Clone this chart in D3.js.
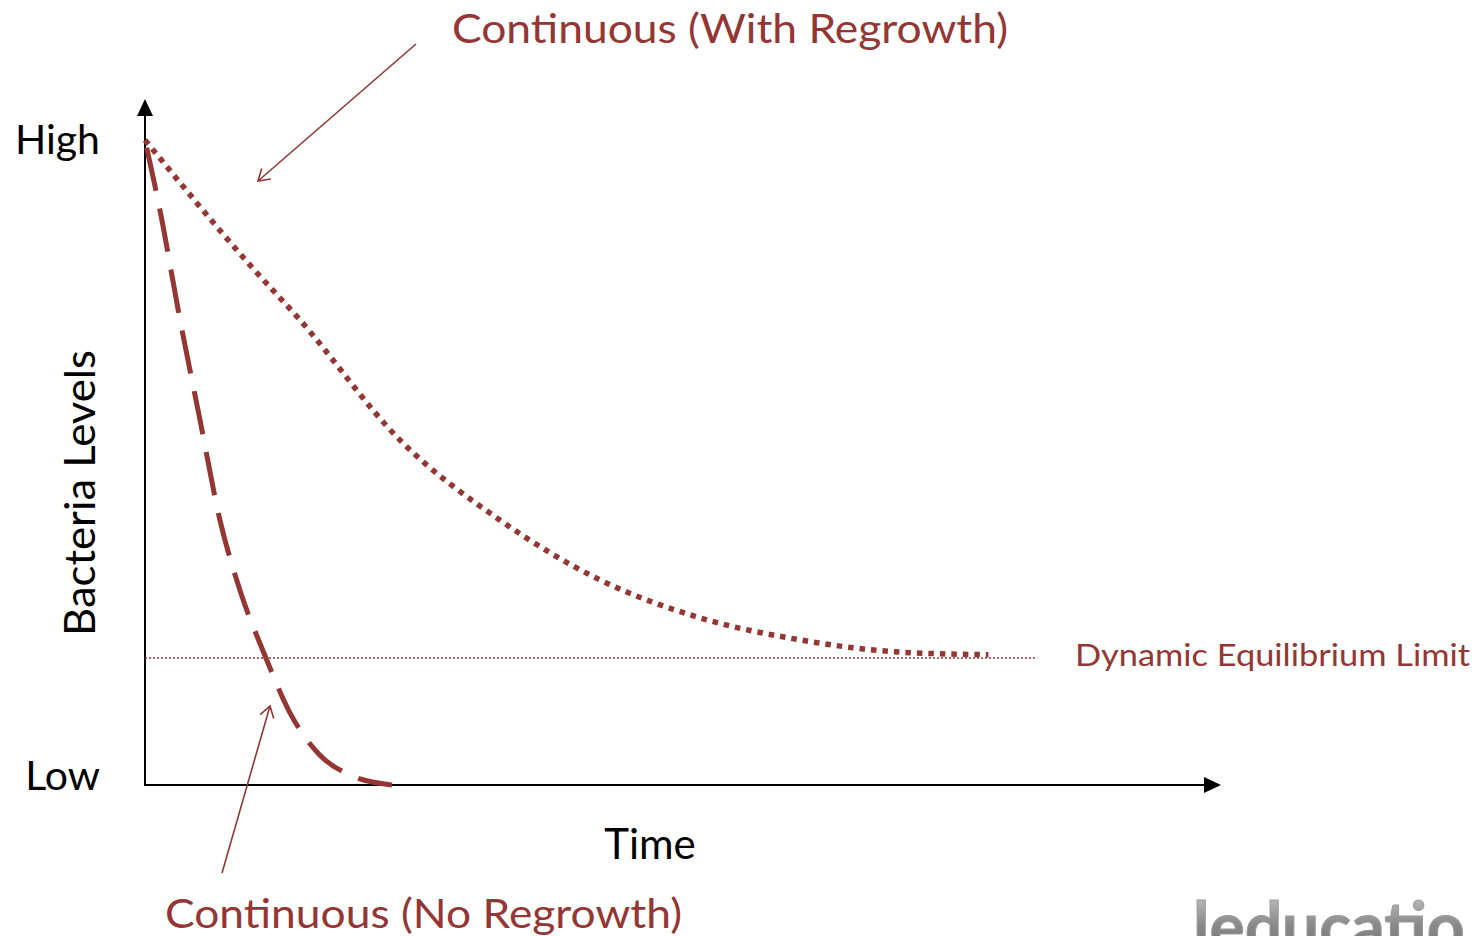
<!DOCTYPE html>
<html><head><meta charset="utf-8">
<script src="https://cdn.jsdelivr.net/npm/d3@7"></script>
<style>body{margin:0;background:#fff}svg{display:block}</style>
</head><body>
<svg id="c" width="1484" height="936"></svg>
<script>
// Data (time 0..100, bacteria level 0..100)
const withRegrowthTime  = [0, 10.1, 14.9, 24.5, 34.1, 43.75, 53.4, 63.0, 72.6, 81.1];
const withRegrowthLevel = [100, 80.6, 72.1, 53.5, 41.1, 31.8, 25.9, 22.5, 20.6, 20.2];
const noRegrowthTime    = [0, 1.44, 3.37, 5.29, 7.2, 9.13, 11.5, 13.9, 16.8, 19.7, 23.75];
const noRegrowthLevel   = [100, 89.1, 72.1, 56.6, 41.1, 30.2, 20.2, 11.3, 4.65, 1.55, 0];
const equilibriumLevel  = [19.7];
const equilibriumSpan   = [0, 85.8];
const yTickLabels = ["Low", "High"];
const yTickValues = [0, 100];
const labels = {
  x: "Time", y: "Bacteria Levels",
  withR: "Continuous (With Regrowth)", noR: "Continuous (No Regrowth)",
  eq: "Dynamic Equilibrium Limit", logo: "leducatio"
};

const RED = "#943634";
const svg = d3.select("#c");
const x = d3.scaleLinear().domain([0, 100]).range([145, 1185]);
const y = d3.scaleLinear().domain([0, 100]).range([785, 140]);
const font = "Lato, 'Open Sans', sans-serif";

const defs = svg.append("defs");
defs.append("marker").attr("id","open").attr("viewBox","-12 -8 14 16").attr("refX",0).attr("refY",0)
  .attr("markerWidth",14).attr("markerHeight",16).attr("markerUnits","userSpaceOnUse").attr("orient","auto")
  .append("path").attr("d","M-11,-7 L0,0 L-11,7").attr("fill","none").attr("stroke",RED).attr("stroke-width",1.6);
const lg = defs.append("linearGradient").attr("id","logoG").attr("x1",0).attr("y1",0).attr("x2",0).attr("y2",1);
lg.append("stop").attr("offset","0%").attr("stop-color","#d0d0d0");
lg.append("stop").attr("offset","50%").attr("stop-color","#8a8a8a");
lg.append("stop").attr("offset","100%").attr("stop-color","#6a6a6a");

// axes
svg.append("line").attr("x1",x(0)).attr("x2",1206).attr("y1",y(0)).attr("y2",y(0))
  .attr("stroke","#000").attr("stroke-width",2);
svg.append("line").attr("x1",x(0)).attr("x2",x(0)).attr("y1",y(0)+1).attr("y2",115)
  .attr("stroke","#000").attr("stroke-width",2);
svg.append("path").attr("d",`M1221,${y(0)} L1204,${y(0)-8} L1204,${y(0)+8} Z`).attr("fill","#000");
svg.append("path").attr("d",`M${x(0)},99 L${x(0)-8},116 L${x(0)+8},116 Z`).attr("fill","#000");

// equilibrium line
svg.append("line").attr("x1",x(equilibriumSpan[0])).attr("x2",x(equilibriumSpan[1]))
  .attr("y1",y(equilibriumLevel[0])).attr("y2",y(equilibriumLevel[0]))
  .attr("stroke",RED).attr("stroke-width",1.5).attr("stroke-dasharray","2 2");

const line = d3.line().x(d=>x(d[0])).y(d=>y(d[1])).curve(d3.curveMonotoneX);
svg.append("path").datum(d3.zip(withRegrowthTime, withRegrowthLevel)).attr("d",line)
  .attr("fill","none").attr("stroke",RED).attr("stroke-width",5.5).attr("stroke-dasharray","5.5 6");
svg.append("path").datum(d3.zip(noRegrowthTime, noRegrowthLevel)).attr("d",line)
  .attr("fill","none").attr("stroke",RED).attr("stroke-width",5).attr("stroke-dasharray","44 18")
  .attr("stroke-dashoffset",-8);

// annotation arrows
svg.append("line").attr("x1",416).attr("y1",44).attr("x2",258).attr("y2",181)
  .attr("stroke",RED).attr("stroke-width",1.6).attr("marker-end","url(#open)");
svg.append("line").attr("x1",222).attr("y1",873).attr("x2",270).attr("y2",706)
  .attr("stroke",RED).attr("stroke-width",1.6).attr("marker-end","url(#open)");

// text
function txt(s, px, py, size, fill, anchor, len) {
  const t = svg.append("text").attr("x",px).attr("y",py).text(s)
    .attr("font-family",font).attr("font-size",size).attr("fill",fill).attr("text-anchor",anchor||"start");
  if (len) t.attr("textLength",len).attr("lengthAdjust","spacingAndGlyphs");
  return t;
}
const tickOffset = [5, 14];
yTickValues.forEach((v,i)=>{
  txt(yTickLabels[i], 100, y(v)+tickOffset[i], 41, "#000", "end");
});
txt(labels.x, 650, 859, 42, "#000", "middle");
svg.append("text").attr("transform",`translate(95,${(350+636)/2}) rotate(-90)`)
  .attr("text-anchor","middle").attr("font-family",font).attr("font-size",42).attr("fill","#000")
  .attr("textLength",286).attr("lengthAdjust","spacingAndGlyphs").text(labels.y);
txt(labels.withR, 452, 43, 40, RED, "start", 556);
txt(labels.noR, 165, 928, 40, RED, "start", 517);
txt(labels.eq, 1075, 666, 31, RED, "start", 395);
txt(labels.logo, 1193, 950, 66, "url(#logoG)", "start").attr("font-weight","bold")
  .attr("stroke","#9a9a9a").attr("stroke-width",1);
</script>
</body></html>
